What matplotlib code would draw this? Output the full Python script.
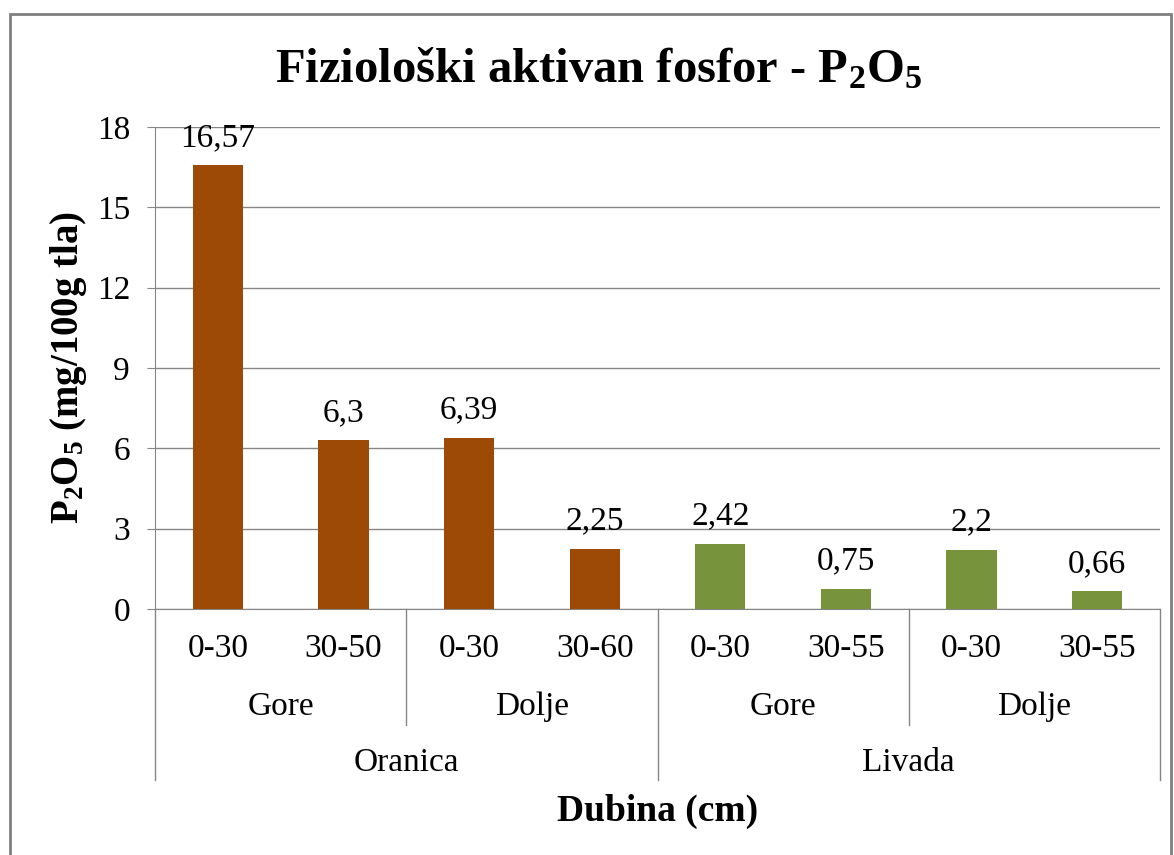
import matplotlib
matplotlib.use("Agg")
import matplotlib.pyplot as plt
from matplotlib.patches import Rectangle

plt.rcParams['font.family'] = ['Liberation Serif', 'DejaVu Serif']
plt.rcParams['mathtext.fontset'] = 'custom'
plt.rcParams['mathtext.rm'] = 'Liberation Serif'
plt.rcParams['mathtext.bf'] = 'Liberation Serif:bold'
plt.rcParams['mathtext.it'] = 'Liberation Serif:italic'

# data
depths = ["0-30", "30-50", "0-30", "30-60", "0-30", "30-55", "0-30", "30-55"]
positions = ["Gore", "Dolje", "Gore", "Dolje"]
land_use = ["Oranica", "Livada"]
values = [16.57, 6.3, 6.39, 2.25, 2.42, 0.75, 2.2, 0.66]
value_labels = ["16,57", "6,3", "6,39", "2,25", "2,42", "0,75", "2,2", "0,66"]
colors = ["#9C4A06"] * 4 + ["#77933C"] * 4
yticks = [0, 3, 6, 9, 12, 15, 18]

fs = 24

fig = plt.figure(figsize=(11.74, 8.55), dpi=100)
ax = fig.add_axes([155/1174, 1 - 609/855, (1160-155)/1174, (609-127)/855])

x = list(range(len(values)))
ax.bar(x, values, width=0.4, color=colors, zorder=3)
for xi, v, lab in zip(x, values, value_labels):
    ax.annotate(lab, (xi, v), xytext=(0, 9), textcoords="offset points",
                ha="center", va="bottom", fontsize=fs)

ax.set_xlim(-0.5, len(values) - 0.5)
ax.set_ylim(0, 18)
ax.set_yticks(yticks)
ax.tick_params(axis="y", labelsize=fs, length=6, color="#868686", pad=12)
ax.set_xticks([])
ax.grid(axis="y", color="#868686", lw=1, zorder=0)
for s in ["top", "right"]:
    ax.spines[s].set_visible(False)
for s in ["left", "bottom"]:
    ax.spines[s].set_color("#868686")

trans = ax.get_xaxis_transform()
# level 1 labels
for xi, d in enumerate(depths):
    ax.text(xi, -0.083, d, transform=trans, ha="center", va="center", fontsize=fs)
# level 2 labels and separators
for i, p in enumerate(positions):
    ax.text(2 * i + 0.5, -0.203, p, transform=trans, ha="center", va="center", fontsize=fs)
for b in [1.5, 5.5]:
    ax.plot([b, b], [0, -0.24], transform=trans, color="#868686", lw=1, clip_on=False)
# level 3 labels and separators
for i, lu in enumerate(land_use):
    ax.text(4 * i + 1.5, -0.32, lu, transform=trans, ha="center", va="center", fontsize=fs)
for b in [-0.5, 3.5, 7.5]:
    ax.plot([b, b], [0, -0.355], transform=trans, color="#868686", lw=1, clip_on=False)

ax.set_ylabel(r"P$_\mathbf{2}$O$_\mathbf{5}$ (mg/100g tla)", fontsize=28,
              fontweight="bold")
ax.yaxis.set_label_coords(-0.066, 0.5)
ax.text(0.5, -0.42, "Dubina (cm)", transform=ax.transAxes, ha="center",
        va="center", fontsize=27, fontweight="bold")

fig.text(0.51, 1 - 70/855, r"Fiziološki aktivan fosfor - P$_\mathbf{2}$O$_\mathbf{5}$",
         ha="center", va="center", fontsize=35, fontweight="bold")

# outer frame
fig.patches.append(Rectangle((10/1174, -0.01), (1171-10)/1174, 1 - 14/855 + 0.01,
                             transform=fig.transFigure, fill=False,
                             edgecolor="#7F7F7F", lw=2))

fig.savefig("out.png", dpi=100)
